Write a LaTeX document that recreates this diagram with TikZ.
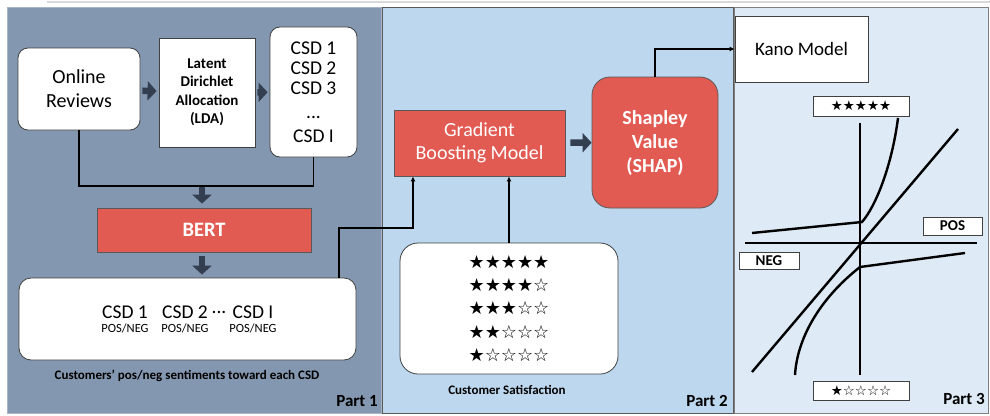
\documentclass[tikz,border=0pt]{standalone}
\usepackage{fontspec}
\setmainfont{Carlito}
\newfontfamily\starfont{DejaVu Sans}
\usetikzlibrary{arrows.meta, positioning, calc}
\definecolor{slateblue}{HTML}{8497B0}
\definecolor{paleblue}{HTML}{BDD7EE}
\definecolor{iceblue}{HTML}{DEEBF7}
\definecolor{shapred}{HTML}{E25B53}
\definecolor{arrowgrey}{HTML}{333F50}

\tikzset{
  plainbox/.style={draw=black!75, fill=white, line width=0.8pt, align=center, inner sep=2pt},
  roundbox/.style={plainbox, rounded corners=10pt},
  redbox/.style={draw=black!65, fill=shapred, text=white, line width=0.8pt, align=center},
  blockarrow/.style={-{Triangle[length=9pt, width=19pt]}, line width=6.5pt, arrowgrey, shorten <=2pt, shorten >=2pt},
  link/.style={line width=1.4pt},
  linkarrow/.style={link, -{Latex[length=5pt, width=5pt]}},
  partlabel/.style={anchor=south east, font=\fontsize{17}{20}\selectfont\bfseries, inner sep=0pt},
  caption/.style={font=\fontsize{13}{15}\selectfont\bfseries},
  tag/.style={draw=black!75, fill=white, line width=0.8pt, inner sep=0pt},
}

\begin{document}
\begin{tikzpicture}[x=1pt, y=-1pt]
    \useasboundingbox (0,0) rectangle (990,415);
    \draw[black!15, line width=2pt] (47,1.5) -- (990,1.5);

    % three stages
    \filldraw[fill=slateblue, draw=slateblue!70!white, line width=0.8pt] (7,7) rectangle (381,413);
    \filldraw[fill=paleblue, draw=black!65, line width=0.8pt] (382,7) rectangle (733,413);
    \filldraw[fill=iceblue, draw=black!50, line width=0.8pt] (734,7) rectangle (988,413);
    \node[partlabel] (part1) at (378,407) {Part 1};
    \node[partlabel] (part2) at (728,407) {Part 2};
    \node[partlabel] (part3) at (985,405) {Part 3};

    % Part 1: topic extraction and sentiment
    \node[roundbox, minimum width=122pt, minimum height=82pt, font=\fontsize{20}{24}\selectfont] (reviews) at (79,89) {Online\\Reviews};
    \node[plainbox, minimum width=96pt, minimum height=109pt, font=\fontsize{15}{18.5}\selectfont\bfseries] (lda) at (207,92.5) {Latent\\Dirichlet\\Allocation\\(LDA)};
    \node[roundbox, minimum width=87pt, minimum height=130pt, font=\fontsize{19.5}{20}\selectfont] (csds) at (313.5,92) {CSD 1\\CSD 2\\CSD 3\\[4pt]...\\[4pt]CSD I};
    \draw[blockarrow] (reviews) -- (lda);
    \draw[blockarrow] (lda) -- (csds);

    \coordinate (join) at (202,186);
    \draw[link] (reviews.south) |- (csds.south |- join) -- (csds.south);

    \node[redbox, minimum width=214pt, minimum height=44pt, font=\fontsize{20.5}{22}\selectfont\bfseries] (bert) at (204,230) {BERT};
    \draw[blockarrow, shorten <=1pt, shorten >=4pt] (join) -- (join |- bert.north);

    \node[roundbox, rounded corners=12pt, minimum width=337pt, minimum height=82pt] (sentiment) at (187.5,319) {};
    \draw[blockarrow, shorten <=4pt, shorten >=3pt] (join |- bert.south) -- (join |- sentiment.north);
    \node[font=\fontsize{19.5}{20}\selectfont] (csda) at (125,312) {CSD 1};
    \node[font=\fontsize{19.5}{20}\selectfont] (csdb) at (185,312) {CSD 2};
    \node[font=\fontsize{19.5}{20}\selectfont] (csddots) at (219,312) {...};
    \node[font=\fontsize{19.5}{20}\selectfont] (csdi) at (253,312) {CSD I};
    \foreach \c in {csda, csdb, csdi}
        \node[font=\fontsize{12.5}{13}\selectfont, below=2pt of \c, inner sep=0pt] {POS/NEG};
    \node[caption] (sentcap) at (187,376) {Customers' pos/neg sentiments toward each CSD};

    % Part 2: prediction and attribution
    \node[redbox, minimum width=171pt, minimum height=66pt, font=\fontsize{20}{23.5}\selectfont] (gbm) at (479.5,143) {Gradient\\Boosting Model};
    \node[redbox, rounded corners=18pt, minimum width=126pt, minimum height=131pt, font=\fontsize{20}{24}\selectfont\bfseries] (shap) at (655,142.5) {Shapley\\Value\\(SHAP)};
    \draw[blockarrow, shorten <=5pt, shorten >=0pt] (gbm) -- (shap);

    \coordinate (bend) at (413,228);
    \draw[linkarrow] ([xshift=151.5pt]sentiment.north) |- (bend) -- (bend |- gbm.south);

    \node[roundbox, rounded corners=18pt, minimum width=218pt, minimum height=131pt] (stars) at (509,308.5) {};
    \foreach \rating [count=\i from 0] in {★★★★★, ★★★★☆, ★★★☆☆, ★★☆☆☆, ★☆☆☆☆}
        \node[font=\starfont\fontsize{18}{18}\selectfont] (starrow\i) at (509,262+23.2*\i) {\rating};
    \draw[linkarrow] (stars.north) -- (stars.north |- gbm.south);
    \node[caption] (satcap) at (507,390) {Customer Satisfaction};

    % Part 3: Kano model
    \node[plainbox, minimum width=133pt, minimum height=66pt, font=\fontsize{19}{20}\selectfont] (kano) at (801.5,49) {Kano Model};
    \draw[linkarrow] (shap.north) |- (kano.west);

    \node[tag, minimum width=96pt, minimum height=20pt, font=\starfont\fontsize{13.5}{13.5}\selectfont] (best) at (861,106) {★★★★★};
    \node[tag, minimum width=96pt, minimum height=19pt, font=\starfont\fontsize{13.5}{13.5}\selectfont] (worst) at (861,390.5) {★☆☆☆☆};
    \node[tag, minimum width=59pt, minimum height=18pt, font=\fontsize{15}{15}\selectfont\bfseries] (pos) at (952.5,226) {POS};
    \node[tag, minimum width=60pt, minimum height=17pt, font=\fontsize{15}{15}\selectfont\bfseries] (neg) at (769,260.5) {NEG};

    \draw[line width=1.3pt] (860,123) -- (860,375);
    \draw[line width=1.3pt] (745,243) -- (977,243);
    \draw[line width=2.4pt] (752,372) -- (958,129);
    \draw[line width=2.4pt] (752,233) -- (862,222) .. controls (876,206) and (892,165) .. (898,118);
    \draw[line width=2.4pt] (795,375) .. controls (797,340) and (818,300) .. (860,267) -- (965,253);
\end{tikzpicture}
\end{document}
